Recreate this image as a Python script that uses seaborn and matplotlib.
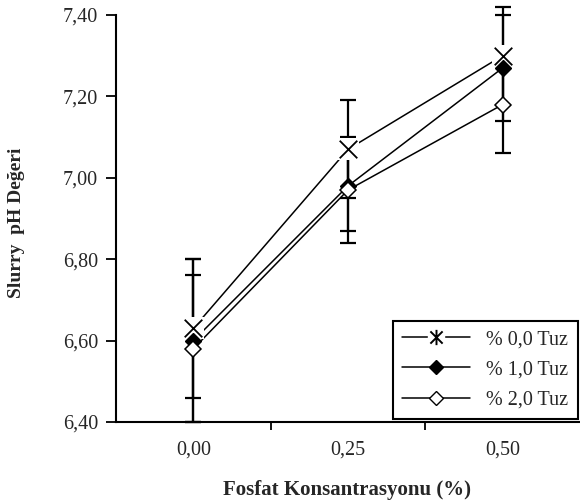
import numpy as np
import pandas as pd
import seaborn as sns
import matplotlib.pyplot as plt
from matplotlib.lines import Line2D
from matplotlib.path import Path
from matplotlib.legend_handler import HandlerTuple
from matplotlib.ticker import FuncFormatter, FixedLocator

# fosfat konsantrasyonu kategorileri
fosfat = ["0,00", "0,25", "0,50"]
pos = [0, 1, 2]

# ortalama pH ve hata degerleri
tuz0 = [6.63, 7.07, 7.30]
err0 = [0.17, 0.12, 0.12]
tuz1 = [6.60, 6.98, 7.27]
err1 = [0.20, 0.11, 0.13]
tuz2 = [6.58, 6.97, 7.18]
err2 = [0.18, 0.13, 0.12]

labels = ["% 0,0 Tuz", "% 1,0 Tuz", "% 2,0 Tuz"]

df = pd.DataFrame({
    "pos": pos * 3,
    "ph": tuz0 + tuz1 + tuz2,
    "err": err0 + err1 + err2,
    "seri": [labels[0]] * 3 + [labels[1]] * 3 + [labels[2]] * 3,
})

sns.set_style("ticks")
plt.rcParams["font.family"] = ["Liberation Serif", "DejaVu Serif"]

fig = plt.figure(figsize=(5.8, 5.0), dpi=100)
ax = fig.add_axes([0.2, 0.156, 0.80, 0.814])

# hata cubuklari
for lab in labels:
    d = df[df.seri == lab]
    ax.errorbar(d.pos, d.ph, yerr=d.err, fmt="none", ecolor="black",
                elinewidth=1.6, capsize=6, capthick=1.6, zorder=2, clip_on=False)

# cizgiler
for lab in labels:
    d = df[df.seri == lab]
    sns.lineplot(data=d, x="pos", y="ph", color="black", linewidth=1.1,
                 ax=ax, zorder=2, legend=False)

# X isaretlerinin arkasindaki beyaz kutular (Excel gorunumu)
d0 = df[df.seri == labels[0]]
ax.scatter(d0.pos, d0.ph, marker="s", s=230, color="white", zorder=3,
           linewidths=0, clip_on=False)

ax.scatter(d0.pos, d0.ph, marker="x", s=160, color="black", linewidths=1.3,
           zorder=5, clip_on=False)
d1 = df[df.seri == labels[1]]
ax.plot(d1.pos, d1.ph, ls="none", marker="D", ms=8.5, mfc="black", mec="black",
        zorder=4)
d2 = df[df.seri == labels[2]]
ax.plot(d2.pos, d2.ph, ls="none", marker="D", ms=8.5, mfc="white", mec="black",
        mew=1.1, zorder=4)

ax.set_xlim(-0.5, 2.5)
ax.set_ylim(6.40, 7.40)
ax.set_yticks(np.arange(6.40, 7.41, 0.20))
ax.yaxis.set_major_formatter(FuncFormatter(lambda v, p: f"{v:.2f}".replace(".", ",")))

ax.xaxis.set_major_locator(FixedLocator([0.5, 1.5]))
ax.xaxis.set_minor_locator(FixedLocator(pos))
ax.set_xticklabels([], minor=False)
ax.set_xticklabels(fosfat, minor=True)
ax.tick_params(axis="x", which="major", direction="out", length=6, width=1.3, color="black")
ax.tick_params(axis="x", which="minor", length=0, pad=13, labelsize=14.5)
ax.tick_params(axis="y", direction="out", length=7, width=1.3, color="black",
               labelsize=14.5, pad=6)

for s in ["top", "right"]:
    ax.spines[s].set_visible(False)
for s in ["left", "bottom"]:
    ax.spines[s].set_linewidth(1.5)
    ax.spines[s].set_color("black")

ax.set_xlabel("Fosfat Konsantrasyonu (%)", fontsize=15, fontweight="bold")
ax.xaxis.set_label_coords(0.498, -0.142)
ax.set_ylabel("Slurry  pH Değeri", fontsize=14, fontweight="bold")
ax.yaxis.set_label_coords(-0.196, 0.489)

# lejant
star = Path([(-1, -1), (1, 1), (-1, 1), (1, -1), (0, -1.25), (0, 1.25)],
            [Path.MOVETO, Path.LINETO, Path.MOVETO, Path.LINETO, Path.MOVETO, Path.LINETO])
h0 = (Line2D([], [], color="black", lw=1.1),
      Line2D([], [], ls="none", marker="s", ms=12, mfc="white", mec="white"),
      Line2D([], [], ls="none", marker=star, ms=11, mfc="none", mec="black", mew=1.4))
h1 = Line2D([], [], color="black", lw=1.1, marker="D", ms=7, mfc="black", mec="black")
h2 = Line2D([], [], color="black", lw=1.1, marker="D", ms=7, mfc="white", mec="black")
leg = ax.legend([h0, h1, h2], labels, handler_map={tuple: HandlerTuple(ndivide=1, pad=0)},
                loc="lower right", bbox_to_anchor=(0.995, 0.008), borderaxespad=0,
                fontsize=14.5, handlelength=3.4, handletextpad=0.8, labelspacing=0.55,
                fancybox=False, framealpha=1, edgecolor="black", borderpad=0.45)
leg.get_frame().set_linewidth(1.5)
leg.set_zorder(10)

fig.savefig("out.png", dpi=100)
